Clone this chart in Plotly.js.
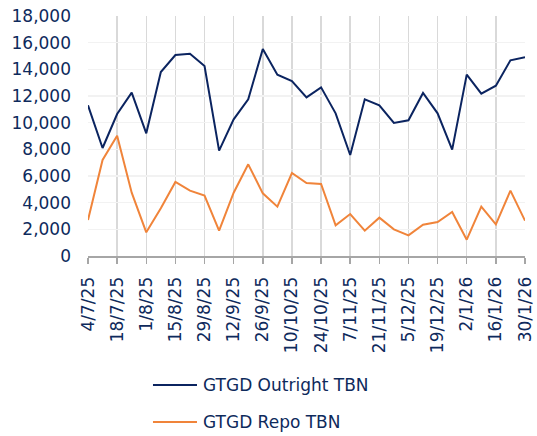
<!DOCTYPE html>
<html>
<head>
<meta charset="utf-8">
<script src="https://cdn.plot.ly/plotly-3.0.1.min.js"></script>
<style>html,body{margin:0;padding:0;background:#fff;}#chart{width:537px;height:436px;}</style>
</head>
<body>
<div id="chart"></div>
<script>
const dates = ["4/7/25","11/7/25","18/7/25","25/7/25","1/8/25","8/8/25","15/8/25","22/8/25","29/8/25","5/9/25","12/9/25","19/9/25","26/9/25","3/10/25","10/10/25","17/10/25","24/10/25","31/10/25","7/11/25","14/11/25","21/11/25","28/11/25","5/12/25","12/12/25","19/12/25","26/12/25","2/1/26","9/1/26","16/1/26","23/1/26","30/1/26"];
const outright = [11300,8100,10650,12250,9200,13800,15075,15175,14250,7900,10250,11750,15525,13600,13125,11900,12650,10700,7575,11750,11300,9975,10175,12225,10700,7975,13600,12175,12775,14675,14900];
const repo = [2700,7200,9025,4750,1775,3575,5550,4900,4525,1900,4750,6875,4700,3700,6225,5475,5400,2300,3150,1900,2875,2000,1550,2350,2550,3300,1225,3700,2375,4900,2650];
const seriesNames = ["GTGD Outright TBN", "GTGD Repo TBN"];
const tickLabels = dates.filter((d, i) => i % 2 === 0);
const yTicks = [0,2000,4000,6000,8000,10000,12000,14000,16000,18000];

const colors = ["#0b2460", "#f0843a"];
const font = {family: "DejaVu Sans, Verdana, sans-serif", size: 17, color: "#0e2a5c"};

const traces = [
  {x: dates, y: outright, type: "scatter", mode: "lines", name: seriesNames[0],
   line: {color: colors[0], width: 2}},
  {x: dates, y: repo, type: "scatter", mode: "lines", name: seriesNames[1],
   line: {color: colors[1], width: 2}}
];

const legY = [-0.5375, -0.6917];
const shapes = legY.map((y, i) => ({type: "line", xref: "paper", yref: "paper",
  x0: 0.1487, x1: 0.2494, y0: y, y1: y, line: {color: colors[i], width: 2}}));
const annotations = legY.map((y, i) => ({xref: "paper", yref: "paper", x: 0.2586, y: y,
  xanchor: "left", yanchor: "middle", showarrow: false, text: seriesNames[i], font: font}));

const layout = {
  width: 537, height: 436,
  margin: {l: 88, r: 12, t: 16, b: 180, autoexpand: false},
  paper_bgcolor: "#fff", plot_bgcolor: "#fff",
  font: font,
  showlegend: false,
  shapes: shapes,
  annotations: annotations,
  xaxis: {
    type: "category", range: [0, 30], automargin: false,
    tickmode: "array", tickvals: tickLabels, ticktext: tickLabels,
    tickangle: -90, ticks: "outside", ticklen: 6, tickcolor: "#a6a6a6", tickwidth: 1.5,
    showline: true, linecolor: "#a6a6a6", linewidth: 2,
    showgrid: true, gridcolor: "#d9d9d9", gridwidth: 1.5,
    tickfont: font, ticklabelstandoff: 6
  },
  yaxis: {
    range: [0, 18000], tickmode: "array", tickvals: yTicks, automargin: false,
    tickformat: ",d", showgrid: true, gridcolor: "#f2f2f2", gridwidth: 1.5,
    zeroline: false, showline: false, ticks: "",
    tickfont: font, ticklabelstandoff: 16
  }
};

Plotly.newPlot("chart", traces, layout, {displayModeBar: false, staticPlot: true});
</script>
</body>
</html>
